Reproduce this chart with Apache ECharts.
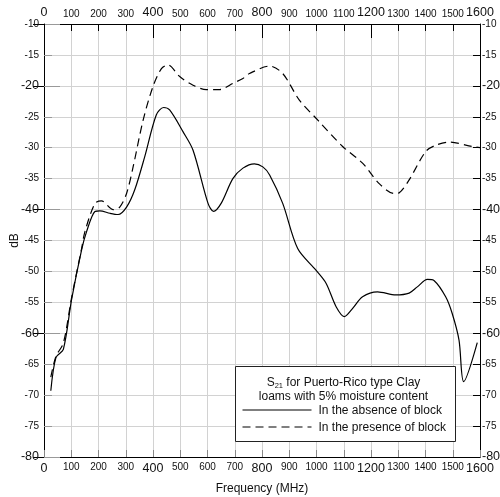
<!DOCTYPE html>
<html>
<head>
<meta charset="utf-8">
<script src="https://cdn.jsdelivr.net/npm/echarts@6/dist/echarts.min.js"></script>
<style>
  html, body { margin: 0; padding: 0; background: #fff; }
  #chart { width: 500px; height: 497px; }
</style>
</head>
<body>
<div id="chart"></div>
<script>
// S21 transmission vs. frequency for Puerto-Rico type clay loam (5% moisture)
const absenceFreq = [25, 44, 71, 101, 138, 156, 187, 205, 242, 272, 303, 333, 370, 412, 439, 461, 510, 547, 602, 622, 650, 693, 730, 772, 803, 828, 876, 931, 998, 1035, 1072, 1102, 1132, 1169, 1224, 1291, 1340, 1370, 1407, 1432, 1474, 1498, 1523, 1540, 1590];
const absenceDb = [-69.3, -63.9, -62.6, -54.6, -46.5, -43.6, -40.3, -40.2, -40.6, -40.8, -39.6, -36.8, -31.4, -24.7, -23.5, -23.9, -27.4, -30.4, -39.0, -40.3, -39.0, -35.0, -33.3, -32.6, -33.1, -34.4, -39.0, -46.3, -49.8, -51.9, -55.7, -57.3, -56.0, -54.1, -53.3, -53.8, -53.5, -52.5, -51.3, -51.5, -54.1, -56.8, -61.1, -67.8, -61.5];

const presenceFreq = [25, 44, 71, 101, 138, 150, 187, 211, 254, 278, 303, 327, 364, 400, 431, 455, 498, 547, 596, 644, 693, 730, 754, 828, 876, 937, 1004, 1096, 1169, 1230, 1285, 1303, 1340, 1401, 1438, 1487, 1572, 1600];
const presenceDb = [-67.1, -63.7, -61.6, -54.3, -46.3, -43.6, -39.0, -38.6, -40.0, -39.6, -37.4, -33.1, -25.5, -20.1, -17.2, -16.6, -18.5, -19.9, -20.6, -20.6, -19.6, -18.8, -18.0, -16.8, -18.0, -22.3, -25.5, -29.8, -32.5, -35.8, -37.4, -37.3, -35.2, -30.6, -29.6, -29.1, -29.8, -30.0];

const legendTitle = ['S', '21', ' for Puerto-Rico type Clay', 'loams with 5% moisture content'];
const legendItems = ['In the absence of block', 'In the presence of block'];

const FONT = '"Liberation Sans", Arial, Helvetica, sans-serif';
const pair = (xs, ys) => xs.map((x, i) => [x, ys[i]]);

const xLabelFmt = v => (v % 400 === 0 ? '{b|' + v + '}' : '{s|' + v + '}');
const yLabelFmt = v => (v % 20 === 0 ? '{b|' + v + '}' : '{s|' + v + '}');
const labelRich = {
  b: { fontSize: 12.5, fontFamily: FONT, color: '#111' },
  s: { fontSize: 10, fontFamily: FONT, color: '#111' }
};

const chart = echarts.init(document.getElementById('chart'), null, { renderer: 'canvas' });

const xBase = { type: 'value', min: 0, max: 1600, interval: 100 };
const yBase = { type: 'value', min: -80, max: -10, interval: 5 };

chart.setOption({
  animation: false,
  backgroundColor: '#fff',
  grid: { left: 44, right: 20, top: 24, bottom: 40, containLabel: false, outerBoundsMode: 'none' },
  xAxis: [
    Object.assign({}, xBase, {
      position: 'bottom',
      name: 'Frequency (MHz)', nameLocation: 'middle', nameGap: 26, nameMoveOverlap: false,
      nameTextStyle: { fontSize: 12, fontFamily: FONT, color: '#111' },
      axisLine: { onZero: false, lineStyle: { color: '#000', width: 1 } },
      axisTick: { inside: true, length: 7, lineStyle: { color: '#888' } },
      axisLabel: { margin: 5, formatter: xLabelFmt, rich: labelRich },
      splitLine: { show: true, lineStyle: { color: '#d2d2d2', width: 1 } }
    }),
    Object.assign({}, xBase, {
      position: 'top',
      axisLine: { onZero: false, lineStyle: { color: '#000', width: 1 } },
      axisTick: { inside: true, length: 7, lineStyle: { color: '#000' } },
      axisLabel: { margin: 5, formatter: xLabelFmt, rich: labelRich },
      splitLine: { show: false }
    }),
    Object.assign({}, xBase, {
      position: 'top', interval: 400,
      axisLine: { show: false },
      axisTick: { inside: true, length: 14, lineStyle: { color: '#000' } },
      axisLabel: { show: false },
      splitLine: { show: false }
    })
  ],
  yAxis: [
    Object.assign({}, yBase, {
      position: 'left',
      name: 'dB', nameLocation: 'middle', nameGap: 23, nameRotate: 90, nameMoveOverlap: false,
      nameTextStyle: { fontSize: 12, fontFamily: FONT, color: '#111' },
      axisLine: { onZero: false, lineStyle: { color: '#000', width: 1 } },
      axisTick: { inside: true, length: 8, lineStyle: { color: '#999' } },
      axisLabel: { margin: 5, formatter: yLabelFmt, rich: labelRich },
      splitLine: { show: true, lineStyle: { color: '#d2d2d2', width: 1 } }
    }),
    Object.assign({}, yBase, {
      position: 'left', interval: 20,
      axisLine: { show: false },
      axisTick: { inside: true, length: 16, lineStyle: { color: '#999' } },
      axisLabel: { show: false },
      splitLine: { show: false }
    }),
    Object.assign({}, yBase, {
      position: 'right',
      axisLine: { onZero: false, lineStyle: { color: '#000', width: 1 } },
      axisTick: { inside: true, length: 7, lineStyle: { color: '#000' } },
      axisLabel: { margin: 2, formatter: yLabelFmt, rich: labelRich },
      splitLine: { show: false }
    }),
    Object.assign({}, yBase, {
      position: 'right', interval: 20,
      axisLine: { show: false },
      axisTick: { inside: true, length: 11, lineStyle: { color: '#000' } },
      axisLabel: { show: false },
      splitLine: { show: false }
    })
  ],
  series: [
    {
      name: legendItems[0], type: 'line', xAxisIndex: 0, yAxisIndex: 0,
      data: pair(absenceFreq, absenceDb), smooth: 0.3, symbol: 'none',
      lineStyle: { color: '#000', width: 1.2, type: 'solid' }
    },
    {
      name: legendItems[1], type: 'line', xAxisIndex: 0, yAxisIndex: 0,
      data: pair(presenceFreq, presenceDb), smooth: 0.3, symbol: 'none',
      lineStyle: { color: '#000', width: 1.2, type: [8, 5] }
    }
  ],
  graphic: [
    {
      type: 'group', left: 235, top: 366, z: 100, zlevel: 1,
      children: [
        { type: 'rect', z: 100, shape: { x: 0, y: 0, width: 220, height: 75 },
          style: { fill: '#fff', stroke: '#222', lineWidth: 1 } },
        { type: 'text', z: 101, x: 108, y: 16,
          style: {
            text: '{a|' + legendTitle[0] + '}{sub|' + legendTitle[1] + '}{a|' + legendTitle[2] + '}',
            align: 'center', verticalAlign: 'middle',
            rich: {
              a: { fontSize: 12, fontFamily: FONT, fill: '#111' },
              sub: { fontSize: 7.5, fontFamily: FONT, fill: '#111', padding: [6, 0, 0, 0] }
            }
          } },
        { type: 'text', z: 101, x: 108, y: 30,
          style: { text: legendTitle[3], align: 'center', verticalAlign: 'middle',
                   font: '12px ' + FONT, fill: '#111' } },
        { type: 'line', z: 101, shape: { x1: 7, y1: 43.5, x2: 76, y2: 43.5 },
          style: { stroke: '#000', lineWidth: 1.2 } },
        { type: 'text', z: 101, x: 83, y: 44,
          style: { text: legendItems[0], verticalAlign: 'middle',
                   font: '12px ' + FONT, fill: '#111' } },
        { type: 'line', z: 101, shape: { x1: 7, y1: 60.5, x2: 76, y2: 60.5 },
          style: { stroke: '#000', lineWidth: 1.2, lineDash: [8, 5] } },
        { type: 'text', z: 101, x: 83, y: 61,
          style: { text: legendItems[1], verticalAlign: 'middle',
                   font: '12px ' + FONT, fill: '#111' } }
      ]
    }
  ]
});
</script>
</body>
</html>
